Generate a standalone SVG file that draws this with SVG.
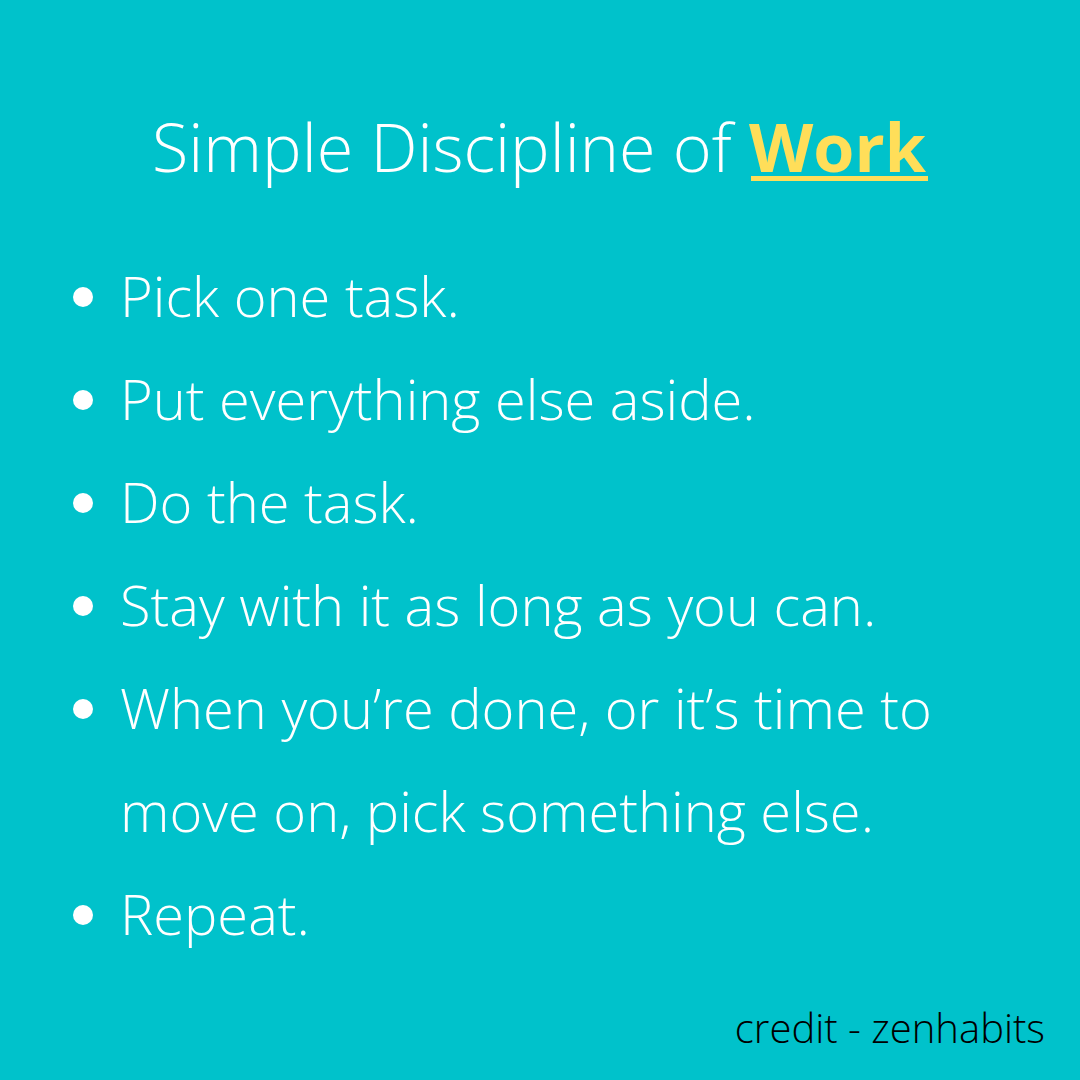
<svg xmlns="http://www.w3.org/2000/svg" width="1080" height="1080" viewBox="0 0 1080 1080">
<style>
.t{font-family:"Open Sans","Liberation Sans",sans-serif;font-weight:300;fill:#ffffff}
.b{font-size:56px}
.dot{fill:#ffffff}
</style>
<rect width="1080" height="1080" fill="#00c2cb"/>
<g id="title">
<text class="t" x="539" y="172" font-size="66.5" text-anchor="middle">Simple Discipline of <tspan font-weight="700" fill="#ffde59">Work</tspan></text>
<rect x="751" y="176" width="177" height="5" fill="#ffde59"/>
</g>
<g id="list">
<circle class="dot" cx="83" cy="297" r="10"/><text class="t b" x="120" y="317">Pick one task.</text>
<circle class="dot" cx="83" cy="400" r="10"/><text class="t b" x="120" y="420">Put everything else aside.</text>
<circle class="dot" cx="83" cy="503" r="10"/><text class="t b" x="120" y="523">Do the task.</text>
<circle class="dot" cx="83" cy="606" r="10"/><text class="t b" x="120" y="626">Stay with it as long as you can.</text>
<circle class="dot" cx="83" cy="709" r="10"/><text class="t b" x="120" y="729">When you’re done, or it’s time to</text>
<text class="t b" x="120" y="832">move on, pick something else.</text>
<circle class="dot" cx="83" cy="915" r="10"/><text class="t b" x="120" y="935">Repeat.</text>
</g>
<g id="credit">
<text x="1045" y="1043" font-family="Open Sans, Liberation Sans, sans-serif" font-weight="300" font-size="40" fill="#000000" text-anchor="end">credit - zenhabits</text>
</g>
</svg>
